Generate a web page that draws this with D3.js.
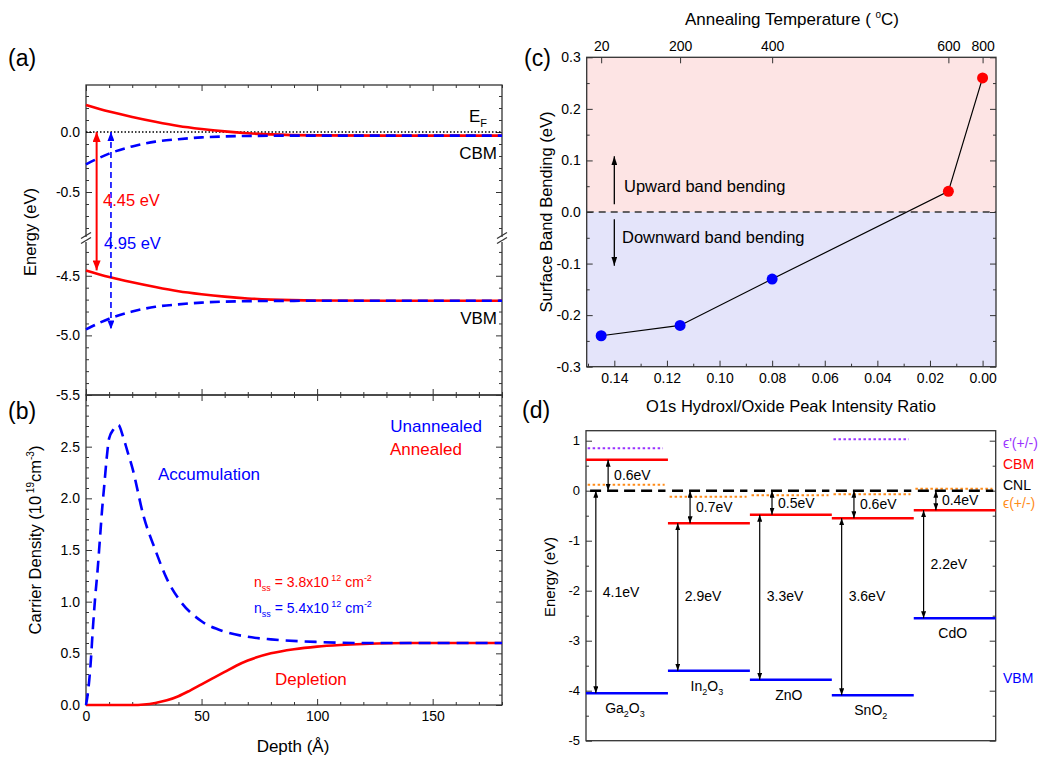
<!DOCTYPE html>
<html>
<head>
<meta charset="utf-8">
<script src="https://cdn.jsdelivr.net/npm/d3@7"></script>
<style>
body { margin: 0; background: #fff; }
svg text { font-family: "Liberation Sans", Arial, sans-serif; }
</style>
</head>
<body>
<div id="fig"></div>
<script>
// ---- (a) band edges vs depth
var depthBand = [0, 10, 20, 30, 40, 50, 60, 70, 80, 100, 130, 180];
var cbmAnnealed = [0.225, 0.17, 0.125, 0.085, 0.05, 0.025, 0.005, -0.01, -0.02, -0.028, -0.03, -0.03];
var vbmAnnealed = [-4.455, -4.51, -4.555, -4.595, -4.63, -4.655, -4.675, -4.69, -4.70, -4.708, -4.71, -4.71];
var cbmUnannealed = [-0.27, -0.18, -0.12, -0.08, -0.06, -0.045, -0.037, -0.033, -0.031, -0.03, -0.03, -0.03];
var vbmUnannealed = [-4.95, -4.86, -4.80, -4.76, -4.74, -4.725, -4.717, -4.713, -4.711, -4.71, -4.71, -4.71];

// ---- (b) carrier density vs depth
var depthUn = [0, 1, 2, 3, 4, 5, 6, 7, 8, 9, 10, 12, 14, 16, 18, 20, 25, 30, 35, 40, 50, 60, 70, 80, 100, 120, 150, 180];
var densityUn = [0, 0.15, 0.4, 0.75, 1.05, 1.3, 1.6, 1.9, 2.15, 2.4, 2.58, 2.67, 2.71, 2.6, 2.45, 2.3, 1.82, 1.5, 1.22, 1.03, 0.81, 0.71, 0.66, 0.635, 0.61, 0.6, 0.6, 0.6];
var depthAn = [0, 10, 20, 25, 30, 35, 40, 45, 50, 55, 60, 65, 70, 80, 90, 100, 110, 120, 140, 180];
var densityAn = [0, 0, 0, 0.005, 0.02, 0.045, 0.085, 0.14, 0.2, 0.26, 0.32, 0.38, 0.43, 0.5, 0.54, 0.565, 0.58, 0.59, 0.6, 0.6];

// ---- (c) surface band bending
var ohRatio = [0.145, 0.115, 0.08, 0.013, 0.0];
var bendEV = [-0.24, -0.22, -0.13, 0.04, 0.26];
var annealTemp = ["20", "200", "400", "600", "800"];

// ---- (d) band alignment of oxides
var oxides = [["Ga", "2", "O", "3"], ["In", "2", "O", "3"], ["ZnO"], ["SnO", "2"], ["CdO"]];
var cbmEV = [0.62, -0.65, -0.48, -0.55, -0.39];
var vbmEV = [-4.05, -3.6, -3.78, -4.09, -2.55];
var cnlEV = [0, 0, 0, 0, 0];
var epsEV = [0.12, -0.12, -0.09, -0.07, 0.04];
var epsPrimeEV = [0.85, null, null, 1.03, null];
var cnlGapText = ["0.6eV", "0.7eV", "0.5eV", "0.6eV", "0.4eV"];
var bigGapText = ["4.1eV", "2.9eV", "3.3eV", "3.6eV", "2.2eV"];

var RED = "#ff0000", BLUE = "#0000ff", ORANGE = "#ff8c1a", PURPLE = "#9933ff", AX = "#333";

var svg = d3.select("#fig").append("svg").attr("width", 1058).attr("height", 763);
var defs = svg.append("defs");

function marker(id, color, len, wid) {
    defs.append("marker").attr("id", id)
        .attr("viewBox", "0 0 10 10").attr("refX", 10).attr("refY", 5)
        .attr("markerWidth", len).attr("markerHeight", wid)
        .attr("preserveAspectRatio", "none")
        .attr("markerUnits", "userSpaceOnUse").attr("orient", "auto-start-reverse")
        .append("path").attr("d", "M0,0L10,5L0,10z").attr("fill", color);
}
marker("arRed", RED, 10, 8);
marker("arBlue", BLUE, 9, 7);
marker("arBlack", "#000", 9, 6);
marker("arSmall", "#000", 7, 5);

function ticks(transform, axisFn, scale, majors, minors, fmt, fs) {
    var g = svg.append("g").attr("transform", transform);
    g.call(axisFn(scale).tickValues(majors).tickSizeInner(-6).tickSizeOuter(0).tickPadding(6).tickFormat(fmt || ""));
    if (minors) g.append("g").call(axisFn(scale).tickValues(minors).tickSizeInner(-3).tickSizeOuter(0).tickFormat(""));
    g.selectAll(".domain").remove();
    g.selectAll("line").attr("stroke", AX).attr("stroke-width", 1);
    g.selectAll("text").attr("font-size", fs || 14).attr("fill", "#000")
        .attr("font-family", "Liberation Sans, Arial, sans-serif");
    return g;
}
function frame(x0, y0, x1, y1) {
    svg.append("rect").attr("x", x0).attr("y", y0).attr("width", x1 - x0).attr("height", y1 - y0)
        .attr("fill", "none").attr("stroke", AX).attr("stroke-width", 1.3);
}
function minorsOf(lo, hi, step, majors) {
    return d3.range(lo, hi + step / 2, step).map(function (d) { return +d.toFixed(4); })
        .filter(function (d) { return majors.every(function (m) { return Math.abs(m - d) > 1e-6; }); });
}
function label(x, y, txt, opt) {
    opt = opt || {};
    return svg.append("text").attr("x", x).attr("y", y)
        .attr("font-size", opt.size || 16).attr("fill", opt.color || "#000")
        .attr("text-anchor", opt.anchor || "start").text(txt);
}

// =================== (a) ===================
var xA = d3.scaleLinear().domain([0, 180]).range([86, 502]);
var yUp = d3.scaleLinear().domain([-0.9, 0.4]).range([240, 84]);
var yLo = d3.scaleLinear().domain([-5.5, -4.2]).range([395, 240]);

var xMaj = [0, 50, 100, 150], xMin = minorsOf(0, 180, 10, xMaj);
ticks("translate(0,85)", d3.axisTop, xA, xMaj, xMin);
ticks("translate(0,395)", d3.axisBottom, xA, xMaj, xMin);
ticks("translate(86,0)", d3.axisLeft, yUp, [0, -0.5], minorsOf(-0.8, 0.3, 0.1, [0, -0.5]), function (d) { return d.toFixed(1); });
ticks("translate(502,0)", d3.axisRight, yUp, [0, -0.5], minorsOf(-0.8, 0.3, 0.1, [0, -0.5]));
var loMaj = [-4.5, -5, -5.5];
ticks("translate(86,0)", d3.axisLeft, yLo, loMaj, minorsOf(-5.4, -4.3, 0.1, loMaj), function (d) { return d.toFixed(1); });
ticks("translate(502,0)", d3.axisRight, yLo, loMaj, minorsOf(-5.4, -4.3, 0.1, loMaj));
frame(86, 85, 502, 395);

// Fermi level
svg.append("line").attr("x1", 86).attr("x2", 502).attr("y1", yUp(0)).attr("y2", yUp(0))
    .attr("stroke", "#000").attr("stroke-width", 1.3).attr("stroke-dasharray", "1.5,2");

function bandLine(vals, ys, color, dash) {
    var line = d3.line().x(function (d, i) { return xA(depthBand[i]); }).y(function (d) { return ys(d); })
        .curve(d3.curveMonotoneX);
    svg.append("path").datum(vals).attr("d", line).attr("fill", "none").attr("stroke", color)
        .attr("stroke-width", 2.6).attr("stroke-dasharray", dash || null);
}
bandLine(cbmAnnealed, yUp, RED);
bandLine(vbmAnnealed, yLo, RED);
bandLine(cbmUnannealed, yUp, BLUE, "10,6");
bandLine(vbmUnannealed, yLo, BLUE, "10,6");

// gap arrows
svg.append("line").attr("x1", xA(4.6)).attr("x2", xA(4.6)).attr("y1", yUp(0)).attr("y2", yLo(vbmAnnealed[0]))
    .attr("stroke", RED).attr("stroke-width", 2)
    .attr("marker-start", "url(#arRed)").attr("marker-end", "url(#arRed)");
svg.append("line").attr("x1", xA(10.8)).attr("x2", xA(10.8)).attr("y1", yUp(0)).attr("y2", yLo(vbmUnannealed[0]))
    .attr("stroke", BLUE).attr("stroke-width", 1.6).attr("stroke-dasharray", "6,4")
    .attr("marker-start", "url(#arBlue)").attr("marker-end", "url(#arBlue)");

// axis break marks
[86, 502].forEach(function (x) {
    svg.append("rect").attr("x", x - 4).attr("y", 237).attr("width", 8).attr("height", 5).attr("fill", "#fff");
    [-2.5, 2.5].forEach(function (o) {
        svg.append("line").attr("x1", x - 5).attr("x2", x + 5).attr("y1", 241 + o).attr("y2", 235 + o)
            .attr("stroke", AX).attr("stroke-width", 1.2);
    });
});

var ef = label(469, 122, "E", { size: 17 });
ef.append("tspan").attr("font-size", 11).attr("dy", 5).text("F");
label(497, 159, "CBM", { size: 17, anchor: "end" });
label(497, 324, "VBM", { size: 17, anchor: "end" });
label(103, 206, "4.45 eV", { size: 16.5, color: RED });
label(104, 249, "4.95 eV", { size: 16.5, color: BLUE });

svg.append("text").attr("transform", "translate(36,232) rotate(-90)").attr("text-anchor", "middle")
    .attr("font-size", 16.5).text("Energy (eV)");
label(8, 66, "(a)", { size: 23 });

// =================== (b) ===================
var yB = d3.scaleLinear().domain([0, 3]).range([705, 395]);
ticks("translate(0,395)", d3.axisTop, xA, xMaj, xMin);
ticks("translate(0,705)", d3.axisBottom, xA, xMaj, xMin, function (d) { return d; });
var bMaj = [0, 0.5, 1, 1.5, 2, 2.5];
ticks("translate(86,0)", d3.axisLeft, yB, bMaj, minorsOf(0.1, 2.9, 0.1, bMaj), function (d) { return d.toFixed(1); });
ticks("translate(502,0)", d3.axisRight, yB, bMaj, minorsOf(0.1, 2.9, 0.1, bMaj));
frame(86, 395, 502, 705);

var lineAn = d3.line().x(function (d, i) { return xA(depthAn[i]); }).y(function (d) { return yB(d); }).curve(d3.curveMonotoneX);
var lineUn = d3.line().x(function (d, i) { return xA(depthUn[i]); }).y(function (d) { return yB(d); }).curve(d3.curveMonotoneX);
svg.append("path").datum(densityAn).attr("d", lineAn).attr("fill", "none").attr("stroke", RED).attr("stroke-width", 2.6);
svg.append("path").datum(densityUn).attr("d", lineUn).attr("fill", "none").attr("stroke", BLUE)
    .attr("stroke-width", 2.6).attr("stroke-dasharray", "12,7");

label(482, 432, "Unannealed", { size: 17, color: BLUE, anchor: "end" });
label(390, 455, "Annealed", { size: 17, color: RED });
label(158, 480, "Accumulation", { size: 17, color: BLUE });
label(275, 685, "Depletion", { size: 17, color: RED });

function nss(y, color, val) {
    var t = label(254, y, "n", { size: 14, color: color });
    t.append("tspan").attr("font-size", 9).attr("dy", 4).text("ss");
    t.append("tspan").attr("dy", -4).text(" = " + val + "x10");
    t.append("tspan").attr("font-size", 9).attr("dy", -6).text(" 12");
    t.append("tspan").attr("dy", 6).text(" cm");
    t.append("tspan").attr("font-size", 9).attr("dy", -6).text("-2");
}
nss(587, RED, "3.8");
nss(613, BLUE, "5.4");

var cd = svg.append("text").attr("transform", "translate(41,540) rotate(-90)").attr("text-anchor", "middle")
    .attr("font-size", 16.5).text("Carrier Density (10");
cd.append("tspan").attr("font-size", 10).attr("dy", -7).text(" 19");
cd.append("tspan").attr("dy", 7).text("cm");
cd.append("tspan").attr("font-size", 10).attr("dy", -7).text("-3");
cd.append("tspan").attr("dy", 7).text(")");
label(293, 752, "Depth (\u00C5)", { size: 17, anchor: "middle" });
label(8, 419, "(b)", { size: 23 });

// =================== (c) ===================
var xC = d3.scaleLinear().domain([0.1505, -0.0051]).range([586.7, 996]);
var yC = d3.scaleLinear().domain([-0.3, 0.3]).range([366.7, 57.3]);
svg.append("rect").attr("x", 586.7).attr("y", yC(0.3)).attr("width", 996 - 586.7).attr("height", yC(0) - yC(0.3)).attr("fill", "#fde4e4");
svg.append("rect").attr("x", 586.7).attr("y", yC(0)).attr("width", 996 - 586.7).attr("height", yC(-0.3) - yC(0)).attr("fill", "#e4e4fa");
svg.append("line").attr("x1", 586.7).attr("x2", 996).attr("y1", yC(0)).attr("y2", yC(0))
    .attr("stroke", "#333").attr("stroke-width", 1.3).attr("stroke-dasharray", "7,5");

var cMaj = [-0.3, -0.2, -0.1, 0, 0.1, 0.2, 0.3];
ticks("translate(586.7,0)", d3.axisLeft, yC, cMaj, minorsOf(-0.25, 0.25, 0.1, cMaj), function (d) { return d.toFixed(1); });
ticks("translate(996,0)", d3.axisRight, yC, cMaj, minorsOf(-0.25, 0.25, 0.1, cMaj));
var cxMaj = [0, 0.02, 0.04, 0.06, 0.08, 0.1, 0.12, 0.14];
ticks("translate(0,366.7)", d3.axisBottom, xC, cxMaj, minorsOf(0.01, 0.15, 0.02, cxMaj), function (d) { return d.toFixed(2); });
ticks("translate(0,57.3)", d3.axisTop, xC, ohRatio, null, function (d, i) { return annealTemp[i]; });
frame(586.7, 57.3, 996, 366.7);

svg.append("path").datum(ohRatio).attr("fill", "none").attr("stroke", "#000").attr("stroke-width", 1.2)
    .attr("d", d3.line().x(function (d) { return xC(d); }).y(function (d, i) { return yC(bendEV[i]); }));
svg.selectAll("circle.pt").data(ohRatio).enter().append("circle").attr("class", "pt")
    .attr("cx", function (d) { return xC(d); }).attr("cy", function (d, i) { return yC(bendEV[i]); })
    .attr("r", 5.5).attr("fill", function (d, i) { return bendEV[i] > 0 ? RED : BLUE; });

svg.append("line").attr("x1", xC(0.14)).attr("x2", xC(0.14)).attr("y1", yC(0.015)).attr("y2", yC(0.108))
    .attr("stroke", "#000").attr("stroke-width", 1.3).attr("marker-end", "url(#arBlack)");
svg.append("line").attr("x1", xC(0.14)).attr("x2", xC(0.14)).attr("y1", yC(-0.014)).attr("y2", yC(-0.104))
    .attr("stroke", "#000").attr("stroke-width", 1.3).attr("marker-end", "url(#arBlack)");
label(624, 192, "Upward band bending", { size: 16.5 });
label(622, 243, "Downward band bending", { size: 16.5 });

var at = label(792, 25, "Annealing Temperature ( ", { size: 17, anchor: "middle" });
at.append("tspan").attr("font-size", 10).attr("dy", -7).text("o");
at.append("tspan").attr("dy", 7).text("C)");
svg.append("text").attr("transform", "translate(552,212) rotate(-90)").attr("text-anchor", "middle")
    .attr("font-size", 16.5).text("Surface Band Bending (eV)");
label(791, 412, "O1s Hydroxl/Oxide Peak Intensity Ratio", { size: 16.5, anchor: "middle" });
label(524, 66, "(c)", { size: 23 });

// =================== (d) ===================
var xD = d3.scaleLinear().domain([0, 5]).range([586, 995.7]);
var yD = d3.scaleLinear().domain([-5, 1.2]).range([740.7, 430.7]);
var dMaj = [-5, -4, -3, -2, -1, 0, 1];
ticks("translate(586,0)", d3.axisLeft, yD, dMaj, minorsOf(-4.5, 0.5, 1, dMaj), function (d) { return d; }, 13);
ticks("translate(995.7,0)", d3.axisRight, yD, dMaj, minorsOf(-4.5, 0.5, 1, dMaj));
frame(586, 430.7, 995.7, 740.7);

oxides.forEach(function (name, i) {
    // dotted defect levels
    svg.append("line").attr("x1", xD(i + 0.02)).attr("x2", xD(i + 0.96)).attr("y1", yD(epsEV[i])).attr("y2", yD(epsEV[i]))
        .attr("stroke", ORANGE).attr("stroke-width", 2).attr("stroke-dasharray", "2.5,2.5");
    if (epsPrimeEV[i] !== null) {
        svg.append("line").attr("x1", xD(i + 0.02)).attr("x2", xD(i + 0.94)).attr("y1", yD(epsPrimeEV[i])).attr("y2", yD(epsPrimeEV[i]))
            .attr("stroke", PURPLE).attr("stroke-width", 2).attr("stroke-dasharray", "2.5,2.5");
    }
    // CNL
    svg.append("line").attr("x1", xD(i + 0.05)).attr("x2", xD(i + 0.97)).attr("y1", yD(cnlEV[i])).attr("y2", yD(cnlEV[i]))
        .attr("stroke", "#000").attr("stroke-width", 2.6).attr("stroke-dasharray", "11,6");
    // band edges
    svg.append("line").attr("x1", xD(i)).attr("x2", xD(i + 1)).attr("y1", yD(cbmEV[i])).attr("y2", yD(cbmEV[i]))
        .attr("stroke", RED).attr("stroke-width", 2.6);
    svg.append("line").attr("x1", xD(i)).attr("x2", xD(i + 1)).attr("y1", yD(vbmEV[i])).attr("y2", yD(vbmEV[i]))
        .attr("stroke", BLUE).attr("stroke-width", 2.6);

    // CNL -> CBM arrow
    var xs = xD(i + 0.27);
    svg.append("line").attr("x1", xs).attr("x2", xs).attr("y1", yD(cnlEV[i])).attr("y2", yD(cbmEV[i]))
        .attr("stroke", "#000").attr("stroke-width", 1.2)
        .attr("marker-start", "url(#arSmall)").attr("marker-end", "url(#arSmall)");
    label(xs + 6, yD((cnlEV[i] + cbmEV[i]) / 2) + 5, cnlGapText[i], { size: 14 });

    // gap arrow
    var top = Math.min(cnlEV[i], cbmEV[i]);
    var xl = xD(i + 0.12);
    svg.append("line").attr("x1", xl).attr("x2", xl).attr("y1", yD(top)).attr("y2", yD(vbmEV[i]))
        .attr("stroke", "#000").attr("stroke-width", 1.2)
        .attr("marker-start", "url(#arSmall)").attr("marker-end", "url(#arSmall)");
    label(xl + 7, yD(Math.max((top + vbmEV[i]) / 2, -2.1)) + 5, bigGapText[i], { size: 14 });

    // material name
    var t = label(xD(i + 0.5) - 2, yD(vbmEV[i]) + 20, "", { size: 14, anchor: "middle" });
    name.forEach(function (s, k) {
        if (k % 2 === 1) t.append("tspan").attr("font-size", 9).attr("dy", 4).text(s);
        else t.append("tspan").attr("dy", k ? -4 : 0).text(s);
    });
});

label(1003, 448, "\u03F5'(+/-)", { size: 14, color: PURPLE });
label(1003, 469, "CBM", { size: 14, color: RED });
label(1003, 490, "CNL", { size: 14 });
label(1003, 508, "\u03F5(+/-)", { size: 14, color: ORANGE });
label(1003, 683, "VBM", { size: 14, color: BLUE });

svg.append("text").attr("transform", "translate(555,577) rotate(-90)").attr("text-anchor", "middle")
    .attr("font-size", 15).text("Energy (eV)");
label(522, 418, "(d)", { size: 23 });
</script>
</body>
</html>
